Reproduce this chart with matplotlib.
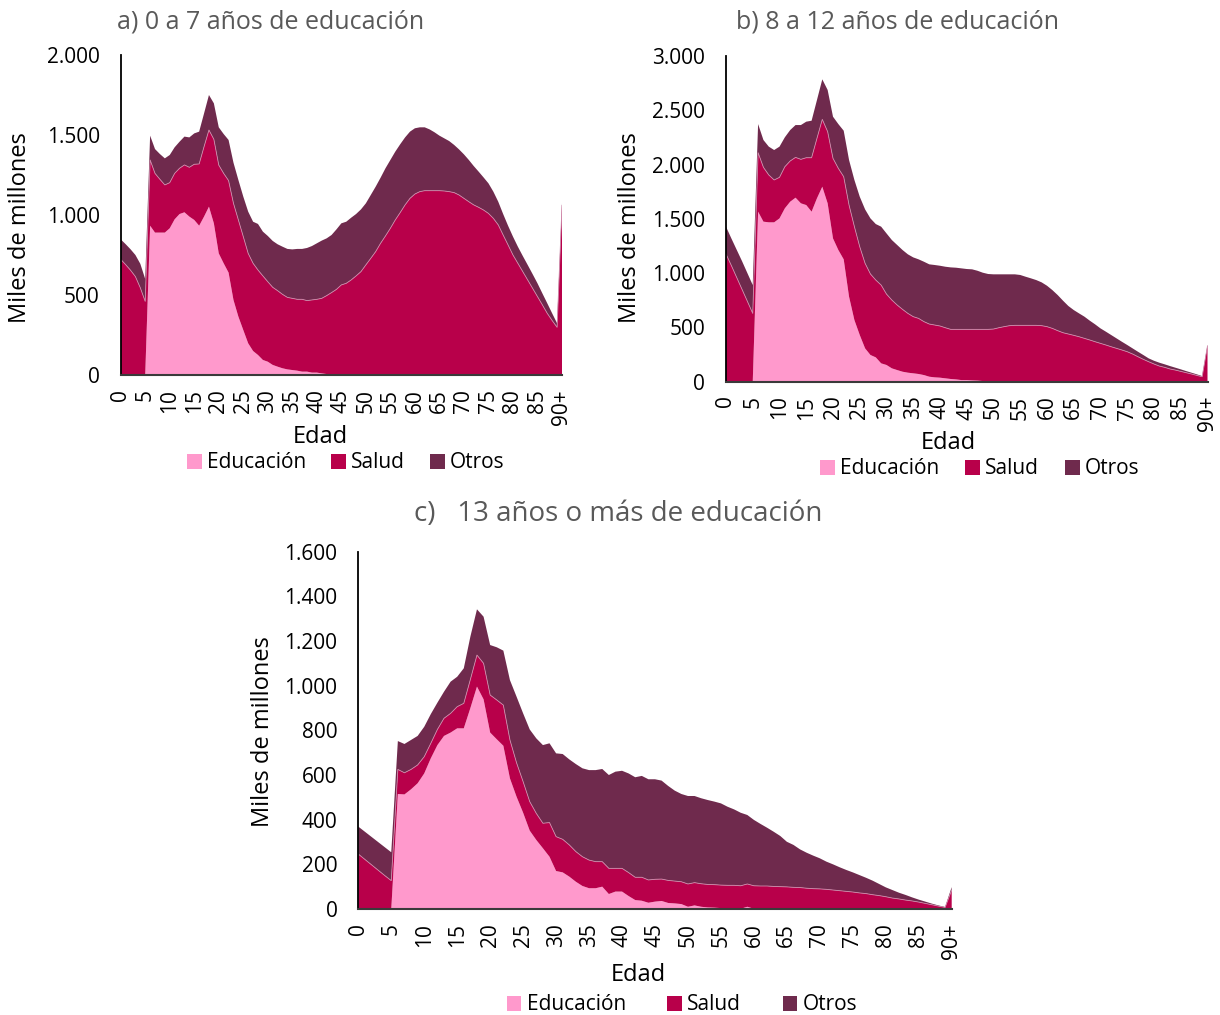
import numpy as np
import matplotlib
matplotlib.use("Agg")
from matplotlib import pyplot as plt
from matplotlib.patches import Patch
from matplotlib.ticker import FuncFormatter, MultipleLocator

plt.rcParams['font.family'] = ['Open Sans', 'DejaVu Sans']

# ages 0..89 plus the open group 90+
edades = np.arange(91)
xticks = list(range(0, 91, 5))
xlabels = [str(v) for v in range(0, 90, 5)] + ["90+"]

# a) 0 a 7 años de educación
edu_a = [0, 0, 0, 0, 0, 0, 933, 890, 890, 890,
         917, 973, 1006, 1017, 990, 969, 933, 990, 1052, 948,
         760, 698, 640, 469, 365, 281, 198, 150, 125, 94,
         83, 63, 52, 42, 35, 31, 27, 21, 21, 15,
         15, 10, 6, 6, 4, 2, 2, 1, 1, 0] + [0] * 41
salud_a = [723, 690, 655, 615, 545, 460, 411, 370, 333, 298,
           285, 287, 286, 296, 308, 348, 386, 437, 479, 525,
           552, 562, 575, 604, 604, 584, 562, 548, 531, 525,
           500, 485, 475, 462, 450, 448, 446, 452, 444, 454,
           458, 469, 490, 509, 531, 561, 571, 593, 618, 646,
           688, 729, 771, 823, 869, 917, 969, 1015, 1063, 1104,
           1131, 1146, 1152, 1152, 1152, 1152, 1150, 1146, 1140, 1125,
           1104, 1083, 1063, 1048, 1031, 1010, 979, 938, 875, 813,
           750, 698, 646, 594, 542, 490, 438, 385, 340, 298,
           1060]
otros_a = [125, 128, 131, 135, 150, 140, 152, 152, 158, 166,
           173, 163, 166, 177, 187, 193, 202, 208, 219, 225,
           236, 246, 254, 254, 250, 250, 261, 260, 288, 277,
           286, 290, 290, 298, 303, 306, 315, 315, 329, 337,
           350, 361, 358, 360, 375, 385, 385, 389, 387, 389,
           385, 396, 406, 410, 423, 427, 427, 427, 422, 417,
           411, 402, 396, 383, 365, 344, 329, 316, 298, 285,
           275, 261, 243, 223, 204, 188, 167, 145, 131, 120,
           115, 104, 98, 94, 89, 83, 72, 63, 45, 25,
           13]

# b) 8 a 12 años de educación
edu_b = [0, 0, 0, 0, 0, 0, 1566, 1474, 1468, 1468,
         1504, 1597, 1658, 1695, 1643, 1627, 1566, 1689, 1796, 1643,
         1320, 1213, 1127, 783, 568, 430, 307, 246, 224, 169,
         154, 123, 107, 92, 83, 77, 71, 61, 46, 40,
         37, 31, 25, 21, 15, 15, 12, 10, 6, 4,
         2, 1] + [0] * 39
salud_b = [1176, 1070, 960, 850, 740, 629, 543, 500, 436, 390,
           378, 383, 375, 371, 405, 436, 497, 552, 620, 660,
           737, 752, 761, 844, 860, 813, 783, 746, 712, 721,
           653, 629, 599, 574, 546, 522, 512, 492, 485, 482,
           476, 466, 457, 461, 467, 467, 470, 472, 476, 478,
           483, 496, 507, 516, 519, 519, 519, 519, 519, 516,
           507, 491, 470, 451, 439, 427, 414, 399, 384, 368,
           353, 338, 322, 307, 292, 276, 255, 230, 206, 184,
           163, 144, 132, 117, 107, 95, 83, 71, 58, 46,
           330]
otros_b = [252, 250, 255, 260, 260, 261, 264, 252, 261, 276,
           283, 271, 285, 298, 316, 332, 341, 353, 369, 384,
           384, 408, 424, 415, 430, 461, 497, 512, 516, 538,
           559, 553, 553, 547, 544, 546, 544, 552, 550, 553,
           555, 562, 571, 568, 562, 556, 553, 540, 522, 510,
           504, 492, 482, 473, 470, 464, 448, 433, 417, 399,
           377, 353, 328, 295, 258, 233, 215, 200, 178, 160,
           138, 123, 108, 92, 76, 62, 52, 46, 40, 31,
           30, 31, 28, 27, 22, 19, 15, 12, 10, 6,
           8]

# c) 13 años o más de educación
edu_c = [0, 0, 0, 0, 0, 0, 515, 513, 536, 563,
         607, 675, 734, 775, 790, 809, 809, 900, 996, 939,
         790, 760, 731, 585, 503, 431, 351, 309, 272, 234,
         170, 164, 145, 122, 103, 93, 93, 100, 67, 78,
         78, 58, 40, 37, 28, 33, 36, 27, 25, 22,
         10, 16, 10, 7, 6, 4, 3, 1, 1, 10,
         1] + [0] * 30
salud_c = [246, 222, 198, 174, 150, 127, 110, 97, 89, 82,
           75, 67, 70, 79, 86, 97, 112, 128, 141, 161,
           168, 176, 182, 172, 152, 139, 130, 119, 112, 153,
           154, 148, 142, 135, 131, 126, 119, 112, 115, 104,
           104, 105, 102, 105, 102, 100, 98, 101, 100, 100,
           102, 102, 103, 103, 103, 103, 103, 105, 103, 102,
           103, 103, 103, 101, 100, 99, 97, 96, 93, 91,
           90, 88, 85, 82, 79, 76, 72, 69, 64, 60,
           55, 49, 45, 40, 36, 31, 25, 19, 13, 7,
           85]
otros_c = [123, 124, 125, 126, 127, 127, 127, 129, 132, 130,
           134, 131, 120, 119, 142, 134, 157, 192, 205, 209,
           224, 236, 244, 268, 296, 306, 323, 336, 350, 355,
           373, 382, 383, 392, 396, 403, 410, 415, 418, 433,
           437, 444, 448, 454, 451, 448, 441, 423, 405, 393,
           394, 388, 383, 378, 372, 366, 352, 340, 327, 309,
           295, 278, 261, 245, 227, 202, 190, 171, 159, 148,
           137, 124, 115, 105, 96, 88, 80, 71, 63, 52,
           42, 36, 28, 23, 16, 11, 8, 5, 3, 2,
           13]

series = ["Educación", "Salud", "Otros"]
colores = ["#FF99CC", "#B8004A", "#6F2A4D"]

W, H = 1220, 1015
fig = plt.figure(figsize=(W / 100, H / 100), dpi=100)


def px(x, y):
    return x / W, 1 - y / H


def miles(v, pos):
    return f"{int(v):,}".replace(",", ".")


def panel(rect, edu, salud, otros, ymax, paso):
    left, top, right, bottom = rect
    ax = fig.add_axes([left / W, 1 - bottom / H, (right - left) / W, (bottom - top) / H])
    ax.stackplot(edades, edu, salud, otros, colors=colores, linewidth=0, antialiased=True)
    tope = np.array(edu) + np.array(salud)
    ax.plot(edades, tope, color="#cf8aab", lw=0.6)
    ax.set_xlim(0, 90)
    ax.set_ylim(0, ymax)
    ax.yaxis.set_major_locator(MultipleLocator(paso))
    ax.yaxis.set_major_formatter(FuncFormatter(miles))
    ax.set_xticks(xticks)
    ax.set_xticklabels(xlabels, rotation=90)
    ax.tick_params(axis="both", length=0, labelsize=15, colors="black")
    ax.tick_params(axis="x", pad=10)
    ax.tick_params(axis="y", pad=15)
    for s in ["top", "right"]:
        ax.spines[s].set_visible(False)
    ax.spines["left"].set_color("#000000")
    ax.spines["left"].set_linewidth(1.3)
    ax.spines["bottom"].set_color("#3a3a3a")
    ax.spines["bottom"].set_linewidth(1.5)
    return ax


ax_a = panel((120.7, 55, 562, 375), edu_a, salud_a, otros_a, 2000, 500)
ax_b = panel((726, 56, 1207.5, 381.7), edu_b, salud_b, otros_b, 3000, 500)
ax_c = panel((358.3, 551.7, 951.7, 909), edu_c, salud_c, otros_c, 1600, 200)

gris = "#595959"
fig.text(*px(271, 22), "a) 0 a 7 años de educación", ha="center", va="center", fontsize=18, color=gris)
fig.text(*px(897, 22), "b) 8 a 12 años de educación", ha="center", va="center", fontsize=18, color=gris)
fig.text(*px(618, 514), "c)   13 años o más de educación", ha="center", va="center", fontsize=20, color=gris)

for (x, y) in [(20, 228), (630, 228), (263, 732)]:
    fig.text(*px(x, y), "Miles de millones", ha="center", va="center", rotation=90, fontsize=17)
for (x, y) in [(320, 437), (948, 443), (638, 975)]:
    fig.text(*px(x, y), "Edad", ha="center", va="center", fontsize=17)

handles = [Patch(facecolor=c, edgecolor="none") for c in colores]
for ax, (x, y), sep in [(ax_a, (346, 463), 1.2), (ax_b, (980, 469), 1.25), (ax_c, (682, 1005), 2.0)]:
    ax.legend(handles, series, loc="center", bbox_to_anchor=px(x, y), bbox_transform=fig.transFigure,
              ncol=3, frameon=False, fontsize=15, handlelength=0.7, handleheight=0.7,
              handletextpad=0.25, columnspacing=sep, borderpad=0, borderaxespad=0)

fig.savefig("out.png", dpi=100)
